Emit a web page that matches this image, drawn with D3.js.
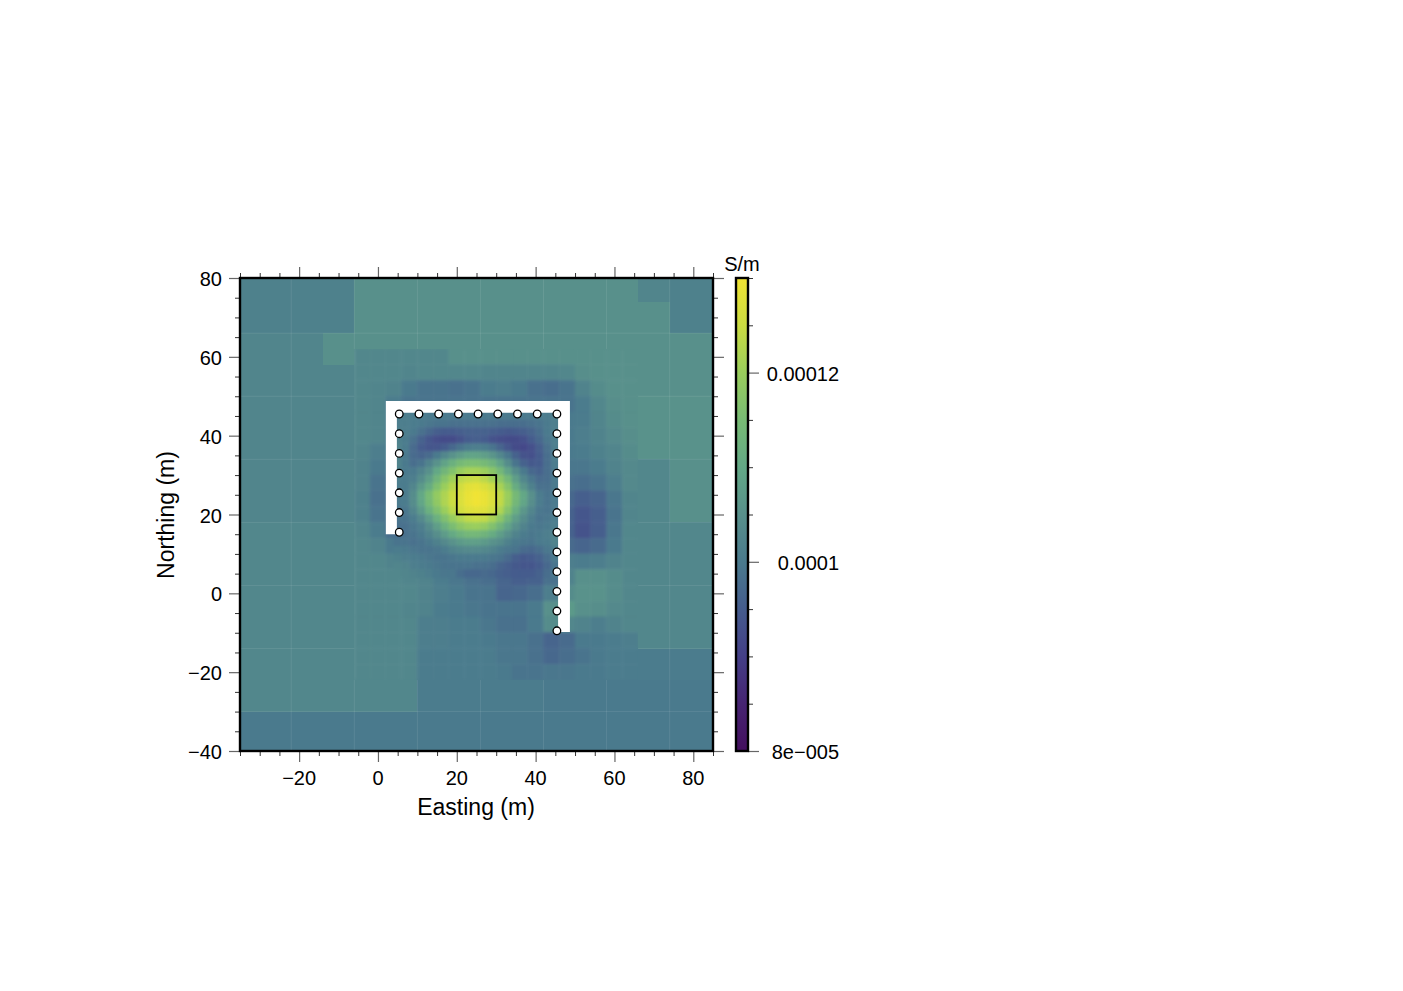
<!DOCTYPE html>
<html>
<head>
<meta charset="utf-8">
<style>
  html, body { margin: 0; padding: 0; background: #fff; }
  svg { display: block; }
  text { font-family: "Liberation Sans", Arial, sans-serif; fill: #000; }
</style>
<script src="https://cdn.jsdelivr.net/npm/d3@7"></script>
</head>
<body>
<div id="chart"></div>
<script>
const __ = null

// conductivity in uS/m, everything in metres
const colorValues = [80, 85, 90, 95, 100, 105, 110, 115, 120, 125, 130]
const colorRange = ['#440f5e', '#462472', '#443f87', '#455c8d', '#4a7a8d', '#58908b', '#63a886', '#78bb74', '#9ace5c', '#cbdc42', '#f0e333']

// outer mesh blocks: west, east, south, north, value
const outerBlocks = [
  [-38, -6, 66, 82, 101.5], [-6, 66, 66, 82, 105], [66, 74, 74, 82, 102.5], [66, 74, 66, 74, 105], [74, 90, 66, 82, 101.5],
  [-38, -14, 50, 66, 102.5], [-14, -6, 58, 66, 105], [-14, -6, 50, 58, 102.5], [-6, 66, 62, 66, 105], [66, 90, 50, 66, 105],
  [-38, -6, 34, 50, 102.5], [66, 90, 34, 50, 105.5],
  [-38, -6, 18, 34, 102.5], [66, 74, 18, 34, 103], [74, 90, 18, 34, 105],
  [-38, -6, 2, 18, 103], [66, 90, 2, 18, 103],
  [-38, -6, -14, 2, 103], [66, 90, -14, 2, 103],
  [-38, -6, -30, -14, 103], [66, 90, -22, -14, 100.5],
  [-6, 10, -30, -22, 103], [10, 42, -30, -22, 100.5], [42, 90, -30, -22, 100],
  [-38, 90, -42, -30, 100]
]

// 4 m cells, column centres and row centres
const midEast = [-4, 0, 4, 8, 12, 16, 20, 24, 28, 32, 36, 40, 44, 48, 52, 56, 60, 64]
const midNorth = [60, 56, 52, 48, 44, 40, 36, 32, 28, 24, 20, 16, 12, 8, 4, 0, -4, -8, -12, -16, -20]
const midValues = [
  [103, 103, 103, 103, 103, 103, 105, 105, 105, 105, 105, 105, 105, 105, 105, 105, 105, 105],
  [103, 103, 103, 102.5, 103, 103, 103, 103, 102.5, 102.5, 102.5, 102.5, 102.5, 103, 104.5, 105, 105, 105],
  [103, 102.5, 102, 100, 99, 99, 98.5, 99, 100.5, 101, 100, 98.5, 98, 99, 102, 104, 105, 105],
  [103, 102.5, 100.5, 99, 99, 99, 99, 99, 99, 99, 99, 99, 99, 99, 100.5, 103, 104.5, 105],
  [103, 102.5, 101, __, __, __, __, __, __, __, __, __, __, 100, 100.5, 102.5, 104, 105],
  [103, 102.5, 100, __, __, __, __, __, __, __, __, __, __, 100, 101, 102, 103.5, 104.5],
  [102.5, 101, 101, __, __, __, __, __, __, __, __, __, __, 100, 100.5, 101.5, 102.5, 104],
  [102, 100, 100, __, __, __, __, __, __, __, __, __, __, 99.5, 99.5, 100.5, 102, 103.5],
  [102, 99, 99.5, __, __, __, __, __, __, __, __, __, __, 98.5, 98, 99, 101, 103.5],
  [101.5, 98.5, 99, __, __, __, __, __, __, __, __, __, __, 97, 95.5, 96.5, 99.5, 102.5],
  [101.5, 99, 99, __, __, __, __, __, __, __, __, __, __, 96, 94, 95.5, 99, 102.5],
  [102.5, 100.5, 98, __, __, __, __, __, __, __, __, __, __, 96, 93.5, 95.5, 99.5, 103],
  [103, 102, 100, __, __, __, __, __, __, __, __, __, __, 97.5, 96.5, 97.5, 100, 103],
  [103, 103, 102, __, __, __, __, __, __, __, __, __, __, 101, 100.5, 101, 102, 103],
  [103, 103, 103, 102.5, 102, 100.5, 99.5, 98.5, 98, 96.5, 95.5, 96, 98.5, 102, 105, 105, 104, 103],
  [103, 103, 103, 103, 102, 101, 100, 99, 99, 96.5, 97, 98, 101, 104, 105.5, 105.5, 104, 103],
  [103, 103, 103, 102.5, 102, 100.5, 100, 99.5, 99, 99, 99, 100, 105, 107, 105, 104.5, 103.5, 103],
  [103, 103, 103, 103, 101, 101, 100.5, 100.5, 99.5, 98.5, 98.5, 100, 104, 103, 102, 101, 102, 103],
  [103, 103, 103, 103, 101, 101, 100.5, 100.5, 100, 99.5, 99.5, 98.5, 96.5, 97.5, 100, 100, 100.5, 101],
  [103, 103, 103, 103, 100.5, 100.5, 100.5, 100.5, 100.5, 99.5, 99.5, 98.5, 97, 98, 99, 100, 100.5, 100.5],
  [103, 103, 103, 103, 100.5, 100.5, 100.5, 100.5, 100.5, 100, 99, 99, 99.5, 99.5, 100, 100, 100.5, 100.5]
]

// 2 m cells inside the survey line
const fineEast = [5, 7, 9, 11, 13, 15, 17, 19, 21, 23, 25, 27, 29, 31, 33, 35, 37, 39, 41, 43, 45]
const fineNorth = [45, 43, 41, 39, 37, 35, 33, 31, 29, 27, 25, 23, 21, 19, 17, 15, 13, 11, 9, 7, 5]
const fineValues = [
  [101, 101, 100.5, 100.5, 100, 100, 100, 100, 100, 100, 100, 100, 100, 100, 100, 100, 100, 100, 100.5, 100.5, 101],
  [101, 101, 100.5, 100, 99.5, 99, 99, 98.5, 98.5, 98.5, 98.5, 98.5, 98.5, 98, 98, 98, 98, 98.5, 99, 100, 101],
  [101.5, 101, 100, 98.5, 97, 95.5, 95, 95, 95.5, 96, 96, 96, 95.5, 95, 94.5, 95, 95.5, 96.5, 98, 100, 101],
  [101.5, 100.5, 98.5, 96, 94, 92.5, 92, 92, 93.5, 95, 95.5, 95, 93.5, 92.5, 92, 92, 93, 95, 97, 99.5, 101],
  [102, 100.5, 97.5, 95, 94, 94, 95, 97, 99, 100.5, 101, 100.5, 99, 96.5, 94, 92, 91.5, 93, 95.5, 98.5, 101],
  [102, 100, 97.5, 96.5, 97.5, 100, 103, 105.5, 107.5, 109, 109, 108, 106, 103, 99.5, 96, 93.5, 93, 95, 98, 101],
  [102, 100, 98, 99, 102, 105.5, 109, 112, 114.5, 115.5, 115.5, 114.5, 112.5, 109, 104, 99, 96, 94.5, 95, 98, 100.5],
  [101.5, 100, 100, 102, 105, 110, 113.5, 116.5, 119.5, 121, 121, 120, 117.5, 114, 109, 104, 100, 97, 96, 98, 100],
  [101, 100.5, 101, 104, 108, 113, 117, 120.5, 123.5, 124.5, 125, 123.5, 121, 118, 114, 108, 103, 99.5, 97.5, 98, 100],
  [100.5, 100.5, 102.5, 107, 111, 116, 120, 123, 126, 128, 128.5, 127, 125, 121.5, 117, 111, 106, 101.5, 98.5, 98.5, 100],
  [100, 100.5, 104, 110, 115, 119, 122, 125, 127, 129, 130, 129, 127, 124, 120, 114.5, 110, 105, 100.5, 99, 100],
  [100, 100.5, 104, 109.5, 114.5, 118.5, 122, 125, 127, 129, 130, 129, 127, 124, 119.5, 114, 109.5, 104.5, 100.5, 99, 100],
  [99.5, 99.5, 102.5, 107, 112, 116, 120, 123.5, 126, 127.5, 128, 127.5, 125.5, 122, 117, 111.5, 106.5, 102.5, 99.5, 99, 100],
  [99, 99, 100.5, 103.5, 107.5, 112, 116, 119.5, 122, 124, 124.5, 124, 121.5, 118, 113, 108, 104, 101, 99, 99.5, 100.5],
  [98.5, 98.5, 99.5, 101, 104, 108, 112, 115.5, 118, 119.5, 120, 119, 116.5, 113, 109, 105, 102, 100, 99.5, 100, 101],
  [98, 98.5, 99, 100, 102, 104.5, 107.5, 110.5, 112.5, 114, 114, 113, 111, 108, 105, 102, 100.5, 99.5, 100, 101, 102],
  [99, 99, 98.5, 99, 100, 101.5, 103.5, 105.5, 107, 108, 108, 107, 105.5, 104, 101.5, 100, 99.5, 99, 100, 100.5, 102],
  [100.5, 100, 99.5, 99, 99, 99.5, 100.5, 102, 103, 103.5, 103.5, 103, 102, 100.5, 99.5, 99, 97.5, 97, 98, 99.5, 101],
  [101.5, 101, 100.5, 100, 99.5, 99, 99, 99.5, 100, 100, 100, 100, 99.5, 99, 97.5, 95.5, 94.5, 95, 96, 98, 100],
  [102.5, 102, 101, 100.5, 100, 99.5, 99, 99, 99, 99, 98.5, 98.5, 98, 96.5, 95.5, 94.5, 94, 94, 95, 97, 99],
  [103, 102.5, 102, 101.5, 101, 100, 99.5, 99.5, 98, 97, 97, 97.5, 97, 96, 95.5, 95, 95, 95, 96, 98, 100]
]

// faint seams between mesh blocks: east1, north1, east2, north2
const meshSeams = [
  [-22, 85, -22, -45], [74, 85, 74, -45],
  [-6, 85, -6, 62], [10, 85, 10, 62], [26, 85, 26, 62], [42, 85, 42, 62], [58, 85, 58, 62],
  [-6, -22, -6, -45], [10, -22, 10, -45], [26, -22, 26, -45], [42, -22, 42, -45], [58, -22, 58, -45],
  [-40, 66, 90, 66], [-40, -30, 90, -30],
  [-40, 50, -6, 50], [-40, 34, -6, 34], [-40, 18, -6, 18], [-40, 2, -6, 2], [-40, -14, -6, -14],
  [66, 50, 90, 50], [66, 34, 90, 34], [66, 18, 90, 18], [66, 2, 90, 2], [66, -14, 90, -14]
]

const maskEast = [2, 48.7, 48.7, 45.7, 45.7, 4.8, 4.8, 2]
const maskNorth = [48.8, 48.8, -9.8, -9.8, 45.8, 45.8, 15, 15]

const stationEast = [5.4, 10.4, 15.4, 20.4, 25.4, 30.4, 35.4, 40.4, 45.4, 5.4, 5.4, 5.4, 5.4, 5.4, 5.4, 45.4, 45.4, 45.4, 45.4, 45.4, 45.4, 45.4, 45.4, 45.4, 45.4, 45.4]
const stationNorth = [45.5, 45.5, 45.5, 45.5, 45.5, 45.5, 45.5, 45.5, 45.5, 40.5, 35.5, 30.5, 25.5, 20.5, 15.5, 40.5, 35.5, 30.5, 25.5, 20.5, 15.5, 10.5, 5.5, 0.5, -4.5, -9.5]

const targetEast = [20, 30]
const targetNorth = [20, 30]

const axisMajorEast = [-20, 0, 20, 40, 60, 80]
const axisMinorEast = [-35, -30, -25, -15, -10, -5, 5, 10, 15, 25, 30, 35, 45, 50, 55, 65, 70, 75, 85]
const axisMajorNorth = [-40, -20, 0, 20, 40, 60, 80]
const axisMinorNorth = [-35, -30, -25, -15, -10, -5, 5, 10, 15, 25, 30, 35, 45, 50, 55, 65, 70, 75]
const barMajor = [80, 100, 120]
const barMinor = [85, 90, 95, 105, 110, 115, 125, 130]
const barLabels = { 80: '8e\u2212005', 100: '0.0001', 120: '0.00012' }

const x = d3.scaleLinear().domain([-35, 85]).range([240, 713])
const y = d3.scaleLinear().domain([-40, 80]).range([751, 278])
const barY = d3.scaleLinear().domain([80, 130]).range([751, 278])
const color = d3.scaleLinear().domain(colorValues).range(colorRange).interpolate(d3.interpolateRgb)

const minusFormat = (d) => String(d).replace('-', '\u2212')

const svg = d3.select('#chart').append('svg').attr('width', 1403).attr('height', 991)
const defs = svg.append('defs')

defs.append('clipPath').attr('id', 'plot-clip')
  .append('rect')
  .attr('x', x(-35)).attr('y', y(80))
  .attr('width', x(85) - x(-35)).attr('height', y(-40) - y(80))

const blur = defs.append('filter').attr('id', 'soften')
  .attr('filterUnits', 'userSpaceOnUse')
  .attr('x', 200).attr('y', 240).attr('width', 560).attr('height', 560)
blur.append('feGaussianBlur')
  .attr('stdDeviation', 1.6)
  .attr('color-interpolation-filters', 'sRGB')

const gradient = defs.append('linearGradient').attr('id', 'bar-gradient')
  .attr('x1', 0).attr('x2', 0).attr('y1', 1).attr('y2', 0)
gradient.selectAll('stop').data(colorValues).enter().append('stop')
  .attr('offset', (d) => (d - 80) / 50)
  .attr('stop-color', (d) => color(d))

const plot = svg.append('g').attr('clip-path', 'url(#plot-clip)')

const drawBlocks = (parent) => {
  parent.append('g').selectAll('rect').data(outerBlocks).enter().append('rect')
    .attr('x', (d) => x(d[0]))
    .attr('y', (d) => y(d[3]))
    .attr('width', (d) => x(d[1]) - x(d[0]))
    .attr('height', (d) => y(d[2]) - y(d[3]))
    .attr('fill', (d) => color(d[4]))
    .attr('shape-rendering', 'crispEdges')
}

const cellsFrom = (east, north, values, size) => {
  const cells = []
  north.forEach((n, row) => {
    east.forEach((e, column) => {
      if (values[row][column] !== null) {
        cells.push({ e, n, size, value: values[row][column] })
      }
    })
  })
  return cells
}

// the blocks also go under the blur so its edges have no see-through rim
const soft = plot.append('g').attr('filter', 'url(#soften)')
drawBlocks(soft)
soft.append('g').selectAll('rect')
  .data(cellsFrom(midEast, midNorth, midValues, 4).concat(cellsFrom(fineEast, fineNorth, fineValues, 2)))
  .enter().append('rect')
  .attr('x', (d) => x(d.e - d.size / 2))
  .attr('y', (d) => y(d.n + d.size / 2))
  .attr('width', (d) => x(d.e + d.size / 2) - x(d.e - d.size / 2))
  .attr('height', (d) => y(d.n - d.size / 2) - y(d.n + d.size / 2))
  .attr('fill', (d) => color(d.value))
  .attr('stroke', (d) => color(d.value))
  .attr('stroke-width', 0.5)

drawBlocks(plot)

plot.append('g').selectAll('line').data(meshSeams).enter().append('line')
  .attr('x1', (d) => x(d[0])).attr('y1', (d) => y(d[1]))
  .attr('x2', (d) => x(d[2])).attr('y2', (d) => y(d[3]))
  .attr('stroke', '#fff').attr('stroke-opacity', 0.09)

plot.append('path')
  .attr('d', d3.line().x((d) => x(d)).y((d, i) => y(maskNorth[i]))(maskEast) + 'Z')
  .attr('fill', '#fff')

plot.append('rect')
  .attr('x', x(targetEast[0])).attr('y', y(targetNorth[1]))
  .attr('width', x(targetEast[1]) - x(targetEast[0]))
  .attr('height', y(targetNorth[0]) - y(targetNorth[1]))
  .attr('fill', 'none').attr('stroke', '#000').attr('stroke-width', 1.8)

svg.append('g').selectAll('circle').data(stationEast).enter().append('circle')
  .attr('cx', (d) => x(d))
  .attr('cy', (d, i) => y(stationNorth[i]))
  .attr('r', 3.8)
  .attr('fill', '#fff').attr('stroke', '#000').attr('stroke-width', 1.3)

// ticks on all four sides, long ones carry the labels
const drawAxis = (axisFn, scale, major, minor, transform, labels) => {
  const minorAxis = axisFn(scale).tickValues(minor).tickSize(5).tickSizeOuter(0).tickFormat('')
  const majorAxis = axisFn(scale).tickValues(major).tickSize(11).tickSizeOuter(0).tickPadding(6)
    .tickFormat(labels || '')
  const g = svg.append('g').attr('transform', transform)
  const gMinor = g.append('g').call(minorAxis)
  const gMajor = g.append('g').call(majorAxis)
  gMinor.select('.domain').remove()
  gMajor.select('.domain').remove()
  gMinor.selectAll('line').attr('stroke', '#333').attr('stroke-width', 1)
  gMajor.selectAll('line').attr('stroke', '#666').attr('stroke-width', 1.2)
  gMajor.selectAll('text').attr('font-size', 20).attr('font-family', null)
  return gMajor
}

const bottomAxis = drawAxis(d3.axisBottom, x, axisMajorEast, axisMinorEast, `translate(0,${y(-40)})`, minusFormat)
bottomAxis.selectAll('text').attr('dy', '0.87em').attr('dx', -0.5)
drawAxis(d3.axisTop, x, axisMajorEast, axisMinorEast, `translate(0,${y(80)})`)
const leftAxis = drawAxis(d3.axisLeft, y, axisMajorNorth, axisMinorNorth, `translate(${x(-35)},0)`, minusFormat)
leftAxis.selectAll('text').attr('x', -18).attr('dy', '0.38em')
drawAxis(d3.axisRight, y, axisMajorNorth, axisMinorNorth, `translate(${x(85)},0)`)

svg.append('rect')
  .attr('x', x(-35)).attr('y', y(80))
  .attr('width', x(85) - x(-35)).attr('height', y(-40) - y(80))
  .attr('fill', 'none').attr('stroke', '#000').attr('stroke-width', 2.4)

svg.append('text').attr('x', 476).attr('y', 815)
  .attr('text-anchor', 'middle').attr('font-size', 23).text('Easting (m)')
svg.append('text').attr('transform', 'translate(174,515) rotate(-90)')
  .attr('text-anchor', 'middle').attr('font-size', 23).text('Northing (m)')

// colour bar
svg.append('rect')
  .attr('x', 736).attr('y', barY(130))
  .attr('width', 12).attr('height', barY(80) - barY(130))
  .attr('fill', 'url(#bar-gradient)')

const barAxis = drawAxis(d3.axisRight, barY, barMajor, barMinor, 'translate(748,0)', (d) => barLabels[d])
barAxis.selectAll('text').attr('x', 91).attr('text-anchor', 'end').attr('dy', '0.38em')

svg.append('rect')
  .attr('x', 736).attr('y', barY(130))
  .attr('width', 12).attr('height', barY(80) - barY(130))
  .attr('fill', 'none').attr('stroke', '#000').attr('stroke-width', 2.4)

svg.append('text').attr('x', 742).attr('y', 271)
  .attr('text-anchor', 'middle').attr('font-size', 20).text('S/m')
</script>
</body>
</html>
